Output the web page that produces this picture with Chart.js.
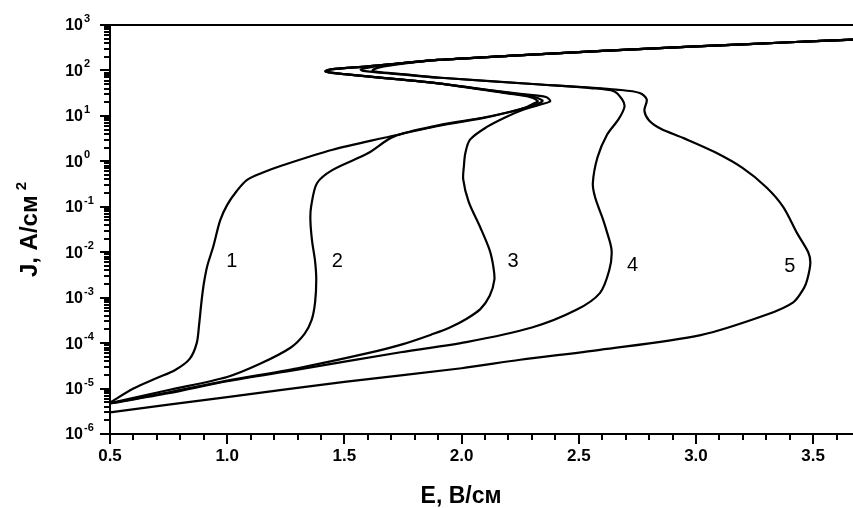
<!DOCTYPE html>
<html>
<head>
<meta charset="utf-8">
<script src="https://cdn.jsdelivr.net/npm/chart.js@4"></script>
<style>
  html, body { margin: 0; padding: 0; background: #fff; }
  #wrap { width: 853px; height: 508px; }
</style>
</head>
<body>
<div id="wrap"><canvas id="chart" width="853" height="508"></canvas></div>
<script>
// J(E) curves, E in В/см, J in А/см²
const curve1E = [0.5, 0.6, 0.7, 0.78, 0.84, 0.87, 0.88, 0.89, 0.9, 0.915, 0.94, 0.97, 1.0, 1.04, 1.085, 1.15, 1.24, 1.45, 1.67, 1.9, 2.09, 2.2, 2.27, 2.31, 2.325, 2.29, 2.2, 1.9, 1.7, 1.5, 1.43, 1.42, 1.45, 1.6, 1.9, 2.2, 2.6, 3.0, 3.4, 3.67];
const curve1J = [4.9e-6, 1.0e-5, 1.7e-5, 2.6e-5, 4.5e-5, 1.0e-4, 2.5e-4, 7.9e-4, 2.0e-3, 5.0e-3, 1.3e-2, 5.0e-2, 0.11, 0.22, 0.39, 0.56, 0.83, 1.8, 3.3, 6.0, 8.9, 12, 15, 19, 21, 26, 31, 52, 66, 83, 91, 98, 107, 123, 170, 209, 269, 339, 417, 479];

const curve2E = [0.5, 0.75, 1.0, 1.14, 1.27, 1.33, 1.36, 1.375, 1.38, 1.375, 1.362, 1.355, 1.358, 1.383, 1.45, 1.6, 1.71, 1.9, 2.09, 2.2, 2.29, 2.34, 2.345, 2.3, 2.2, 1.9, 1.7, 1.5, 1.42, 1.45, 1.6, 1.9, 2.2, 2.6, 3.0, 3.4, 3.67];
const curve2J = [4.8e-6, 9.3e-6, 1.8e-5, 3.5e-5, 7.9e-5, 1.6e-4, 3.2e-4, 7.9e-4, 2.5e-3, 6.3e-3, 1.8e-2, 5.0e-2, 0.1, 0.33, 0.65, 1.5, 3.5, 6.2, 9.1, 12, 16, 20, 22, 27, 32, 52, 66, 83, 95, 107, 123, 170, 209, 269, 339, 417, 479];

const curve3E = [0.5, 0.75, 1.0, 1.3, 1.6, 1.75, 1.88, 1.95, 2.02, 2.08, 2.12, 2.14, 2.135, 2.12, 2.08, 2.03, 2.007, 2.01, 2.016, 2.036, 2.11, 2.19, 2.26, 2.34, 2.378, 2.36, 2.26, 2.1, 1.9, 1.7, 1.5, 1.42, 1.45, 1.6, 1.9, 2.2, 2.6, 3.0, 3.4, 3.67];
const curve3J = [4.7e-6, 8.3e-6, 1.5e-5, 2.8e-5, 6.0e-5, 9.5e-5, 1.6e-4, 2.2e-4, 3.4e-4, 5.6e-4, 1.1e-3, 2.5e-3, 5.0e-3, 1.1e-2, 3.5e-2, 0.13, 0.4, 0.79, 1.5, 3.0, 5.8, 9.5, 13.5, 18, 21, 26, 30, 38, 52, 66, 83, 95, 107, 123, 170, 209, 269, 339, 417, 479];

const curve4E = [0.5, 0.75, 1.0, 1.3, 1.74, 2.02, 2.3, 2.49, 2.59, 2.63, 2.64, 2.62, 2.6, 2.57, 2.56, 2.58, 2.62, 2.67, 2.695, 2.685, 2.65, 2.55, 2.335, 1.91, 1.7, 1.58, 1.57, 1.62, 1.75, 1.9, 2.2, 2.6, 3.0, 3.4, 3.67];
const curve4J = [4.7e-6, 7.9e-6, 1.45e-5, 2.6e-5, 6.3e-5, 1.05e-4, 2.2e-4, 5.4e-4, 1.26e-3, 4.0e-3, 1.1e-2, 2.8e-2, 5.9e-2, 0.16, 0.33, 1.23, 3.8, 8.5, 15.8, 23, 35, 41, 49, 69, 85, 98, 105, 120, 145, 170, 209, 269, 339, 417, 479];

const curve5E = [0.5, 1.0, 1.5, 2.0, 2.25, 2.59, 3.02, 3.3, 3.415, 3.46, 3.475, 3.488, 3.479, 3.432, 3.372, 3.3, 3.2, 3.08, 2.95, 2.85, 2.8, 2.78, 2.79, 2.76, 2.66, 2.55, 2.335, 1.91, 1.75, 1.64, 1.62, 1.65, 1.75, 1.9, 2.2, 2.6, 3.0, 3.4, 3.67];
const curve5J = [3.0e-6, 6.5e-6, 1.4e-5, 2.8e-5, 4.3e-5, 7.1e-5, 1.5e-4, 4.2e-4, 7.9e-4, 1.6e-3, 2.5e-3, 5.8e-3, 1.0e-2, 2.6e-2, 0.1, 0.27, 0.71, 1.6, 3.2, 5.2, 7.9, 13, 23, 32, 38, 42, 49, 69, 83, 93, 100, 117, 141, 170, 209, 269, 339, 417, 479];

// curve numbers written next to each curve
const curveNames = ['1', '2', '3', '4', '5'];
const nameE = [1.02, 1.47, 2.22, 2.73, 3.40];
const nameJ = [6.1e-3, 6.2e-3, 6.2e-3, 5.2e-3, 4.8e-3];

// axis ticks
const xTickLabels = ['0.5', '1.0', '1.5', '2.0', '2.5', '3.0', '3.5'];
const yTickPowers = [-6, -5, -4, -3, -2, -1, 0, 1, 2, 3];

const FONT = '"Liberation Sans", Arial, sans-serif';

const toPoints = (es, js) => es.map((e, i) => ({ x: e, y: js[i] }));

const buildSets = (curves) => {
  const sets = [];
  curves.forEach(([es, js], i) => {
    sets.push({
      label: curveNames[i],
      data: toPoints(es, js),
      borderColor: '#000',
      borderWidth: 2.2,
      pointRadius: 0,
      tension: 0.3,
      fill: false,
    });
  });
  return sets;
};

// frame, ticks, tick labels, titles and curve numbers
const axesPlugin = {
  id: 'axes',
  afterDraw(chart) {
    const { ctx, chartArea: a, scales: { x, y } } = chart;
    ctx.save();
    ctx.strokeStyle = '#000';
    ctx.fillStyle = '#000';
    ctx.lineWidth = 2;

    ctx.beginPath();
    ctx.moveTo(a.left, a.top);
    ctx.lineTo(a.left, a.bottom);
    ctx.lineTo(a.right, a.bottom);
    ctx.moveTo(a.left, a.top);
    ctx.lineTo(a.right, a.top);
    ctx.stroke();

    // x ticks: major every 0.5, minor every 0.1
    ctx.beginPath();
    for (let k = 5; k <= 36; k++) {
      const px = Math.round(x.getPixelForValue(k / 10));
      const len = k % 5 === 0 ? 10 : 6;
      ctx.moveTo(px, a.bottom);
      ctx.lineTo(px, a.bottom + len);
    }
    // y ticks: decades and 2..9 in between
    yTickPowers.forEach((p) => {
      const py = Math.round(y.getPixelForValue(Math.pow(10, p)));
      ctx.moveTo(a.left - 10, py);
      ctx.lineTo(a.left, py);
      if (p < 3) {
        for (let m = 2; m <= 9; m++) {
          const pm = Math.round(y.getPixelForValue(m * Math.pow(10, p)));
          ctx.moveTo(a.left - 6, pm);
          ctx.lineTo(a.left, pm);
        }
      }
    });
    ctx.stroke();

    ctx.font = 'bold 17px ' + FONT;
    ctx.textAlign = 'center';
    ctx.textBaseline = 'top';
    xTickLabels.forEach((t) => {
      ctx.fillText(t, x.getPixelForValue(parseFloat(t)), a.bottom + 14);
    });

    yTickPowers.forEach((p) => {
      const py = y.getPixelForValue(Math.pow(10, p));
      ctx.font = 'bold 16px ' + FONT;
      ctx.textAlign = 'right';
      ctx.textBaseline = 'middle';
      ctx.fillText('10', a.left - 27, py + 1);
      ctx.font = 'bold 11px ' + FONT;
      ctx.textAlign = 'left';
      ctx.fillText(String(p), a.left - 26, py - 6);
    });

    // curve numbers
    ctx.font = '20px ' + FONT;
    ctx.textAlign = 'center';
    ctx.textBaseline = 'middle';
    curveNames.forEach((n, i) => {
      ctx.fillText(n, x.getPixelForValue(nameE[i]), y.getPixelForValue(nameJ[i]));
    });

    // axis titles
    ctx.font = 'bold 23px ' + FONT;
    ctx.textAlign = 'center';
    ctx.textBaseline = 'alphabetic';
    ctx.fillText('E, В/см', 461, 503);

    ctx.translate(37, (a.top + a.bottom) / 2);
    ctx.rotate(-Math.PI / 2);
    ctx.font = 'bold 24px ' + FONT;
    const main = 'J, А/см';
    const wMain = ctx.measureText(main).width;
    ctx.font = 'bold 15px ' + FONT;
    const wSup = ctx.measureText('2').width;
    const start = -(wMain + 5 + wSup) / 2;
    ctx.font = 'bold 24px ' + FONT;
    ctx.textAlign = 'left';
    ctx.fillText(main, start, 0);
    ctx.font = 'bold 15px ' + FONT;
    ctx.fillText('2', start + wMain + 5, -11);
    ctx.restore();
  },
};

const ctx = document.getElementById('chart').getContext('2d');
new Chart(ctx, {
  type: 'line',
  data: {
    datasets: buildSets([
      [curve1E, curve1J],
      [curve2E, curve2J],
      [curve3E, curve3J],
      [curve4E, curve4J],
      [curve5E, curve5J],
    ]),
  },
  options: {
    responsive: false,
    animation: false,
    devicePixelRatio: 1,
    layout: {
      padding: { left: 110, top: 25, right: 0, bottom: 74 },
    },
    scales: {
      x: { type: 'linear', min: 0.5, max: 3.67, display: false },
      y: { type: 'logarithmic', min: 1e-6, max: 1e3, display: false },
    },
    plugins: {
      legend: { display: false },
      tooltip: { enabled: false },
    },
  },
  plugins: [axesPlugin],
});
</script>
</body>
</html>
